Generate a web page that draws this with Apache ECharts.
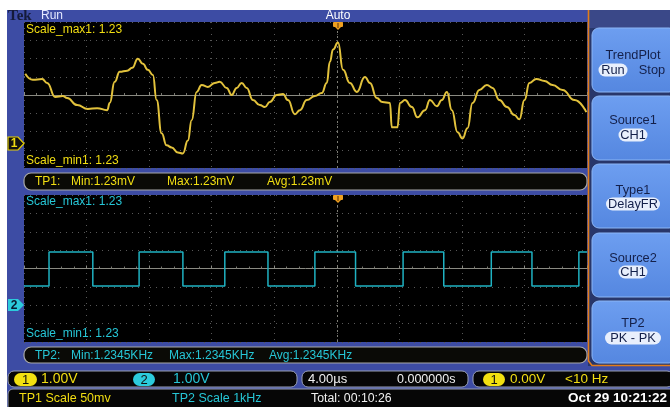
<!DOCTYPE html>
<html>
<head>
<meta charset="utf-8">
<script src="https://cdn.jsdelivr.net/npm/echarts@6/dist/echarts.min.js"></script>
<style>
  html, body { margin: 0; padding: 0; background: #fff; }
  #chart { width: 670px; height: 407px; }
</style>
</head>
<body>
<div id="chart"></div>
<script>
// ---- Data (in screen divisions) ----
const ch1Time = [0.02,0.14,0.29,0.37,0.50,0.62,0.69,0.85,1.02,1.17,
  1.33,1.37,1.45,1.53,1.65,1.73,1.82,1.90,1.98,2.06,
  2.12,2.20,2.28,2.36,2.46,2.54,2.62,2.68,2.76,2.84,
  2.94,3.05,3.13,3.24,3.32,3.40,3.48,3.56,3.66,3.77,
  3.85,3.93,4.04,4.14,4.22,4.33,4.41,4.52,4.65,4.76,
  4.84,4.89,4.94,5.02,5.10,5.21,5.32,5.45,5.53,5.64,
  5.73,5.85,5.88,5.97,6.01,6.09,6.20,6.29,6.41,6.49,
  6.60,6.68,6.76,6.84,6.93,7.01,7.09,7.17,7.28,7.40,
  7.49,7.60,7.72,7.84,7.92,8.00,8.08,8.19,8.32,8.45,
  8.61,8.80,8.99];
const ch1Value = [1.16,0.83,0.88,0.66,-0.11,-0.06,-0.17,-0.55,-0.77,-0.72,
  -0.83,-0.44,0.72,1.27,1.33,1.49,1.99,1.71,1.38,1.10,
  -0.28,-2.10,-2.76,-2.87,-3.15,-3.20,-2.49,-1.38,0.17,0.55,
  0.44,0.66,0.72,0.39,0.00,0.39,0.66,0.39,-0.28,-0.55,
  -0.66,-0.39,0.00,0.06,-0.28,-1.05,-0.83,-0.28,-0.06,0.11,
  0.66,1.82,2.49,2.87,1.38,0.66,0.17,0.99,0.66,-0.17,
  -0.39,-0.44,-1.77,-1.77,-0.44,-0.28,-0.66,-1.22,-0.83,-0.28,
  -0.61,-0.28,0.17,-0.83,-2.04,-2.38,-1.82,-0.44,0.28,0.55,
  0.39,-0.28,-0.66,-1.10,-1.33,-0.28,0.66,0.88,0.77,0.55,
  0.28,-0.28,-0.94];
const ch2Edges = [0.40,1.10,1.84,2.54,3.21,3.90,4.65,5.30,6.06,6.71,7.47,8.12,8.87];
const ch2High = 0.90;
const ch2Low = -0.95;
const xDivisions = 9;
const yDivisions = 4;
const triggerPos = 5;

// ---- Build series data ----
const ch1Data = ch1Time.map((t, i) => [t, ch1Value[i]]);
const ch2Data = [];
let lvl = ch2Low;
ch2Data.push([0, lvl]);
ch2Edges.forEach(e => {
  ch2Data.push([e, lvl]);
  lvl = (lvl === ch2Low) ? ch2High : ch2Low;
  ch2Data.push([e, lvl]);
});
ch2Data.push([xDivisions, lvl]);

const FONT = '"Liberation Sans", Arial, sans-serif';
const YEL = '#f2de12';
const CYA = '#26c6d6';

function rect(x, y, w, h, fill, stroke, r, lw) {
  return { type: 'rect', z: 50, shape: { x, y, width: w, height: h, r: r || 0 },
    style: { fill: fill, stroke: stroke || null, lineWidth: lw || 1 } };
}
function txt(x, y, s, color, size, weight, align, family) {
  return { type: 'text', z: 120, x, y,
    style: { text: s, fill: color, font: (weight || 'normal') + ' ' + (size || 12) + 'px ' + (family || FONT),
      textAlign: align || 'left', textVerticalAlign: 'middle', align: align || 'left', verticalAlign: 'middle' } };
}
function pill(cx, cy, w, h, s, fill, color, size) {
  return [
    { type: 'rect', z: 110, shape: { x: cx - w / 2, y: cy - h / 2, width: w, height: h, r: h / 2 }, style: { fill } },
    txt(cx, cy + 0.5, s, color, size || 12, 'normal', 'center')
  ];
}

const g = [];
// white borders
g.push(rect(0, 0, 670, 10, '#ffffff'));
g.push(rect(0, 0, 7, 407, '#ffffff'));
// right panel
g.push(rect(588, 10, 82, 356, '#28366a'));
g.push(rect(588, 10, 82, 18, '#3a4888'));
const btns = [[28, 92], [96, 160], [164, 228], [233, 297], [301, 363]];
btns.forEach(b => {
  g.push({ type: 'rect', z: 60, shape: { x: 592, y: b[0], width: 84, height: b[1] - b[0], r: 7 },
    style: { fill: new echarts.graphic.LinearGradient(0, 0, 0, 1, [
      { offset: 0, color: '#6d9ef0' }, { offset: 1, color: '#5587e0' }]), stroke: '#8cb6f6', lineWidth: 1 } });
});
g.push({ type: 'polyline', z: 70, shape: { points: [[588.5, 10], [588.5, 361], [592, 365.5], [670, 365.5]] },
  style: { stroke: '#e27c1a', lineWidth: 1.6, fill: null } });
// TP bars
g.push(rect(24, 173, 563, 17, '#0a0a06', '#a8a8a8', 7, 1.2));
g.push(rect(24, 347, 563, 16, '#0a0a06', '#a8a8a8', 7, 1.2));
// status bar
g.push(rect(8, 371, 289, 16, '#060606', '#9aa0b4', 6, 1));
g.push(rect(302, 371, 166, 16, '#060606', '#9aa0b4', 6, 1));
g.push(rect(473, 371, 200, 16, '#060606', '#9aa0b4', 6, 1));
g.push(rect(8, 389, 670, 20, '#060606', '#9aa0b4', [5, 0, 0, 0], 1));
// channel tags
g.push({ type: 'polygon', z: 80, shape: { points: [[8, 137], [18, 137], [24, 143.5], [18, 150], [8, 150]] },
  style: { fill: '#111', stroke: '#e8d000', lineWidth: 1.2 } });
g.push(txt(14, 144, '1', '#f0dc10', 12, 'bold', 'center'));
g.push({ type: 'polygon', z: 80, shape: { points: [[8, 299], [18, 299], [24, 305], [18, 311], [8, 311]] },
  style: { fill: '#2ccbdc' } });
g.push(txt(14, 305.5, '2', '#0a1a30', 12, 'bold', 'center'));
// trigger markers
[22, 195].forEach(y0 => {
  g.push({ type: 'rect', z: 110, shape: { x: 333, y: y0, width: 10, height: 5, r: 1 }, style: { fill: '#f0a020' } });
  g.push({ type: 'polygon', z: 110, shape: { points: [[335, y0 + 5], [341, y0 + 5], [338, y0 + 8]] }, style: { fill: '#f0a020' } });
  g.push({ type: 'line', z: 111, shape: { x1: 338, y1: y0 + 1, x2: 338, y2: y0 + 6 }, style: { stroke: '#5a3000', lineWidth: 1 } });
});
// header texts
g.push(txt(8, 16, 'Tek', '#141a3a', 15, 'bold', 'left', '"Liberation Serif", serif'));
g.push(txt(41, 16, 'Run', '#e4e8ff', 12));
g.push(txt(338, 16, 'Auto', '#ffffff', 12, 'normal', 'center'));
// plot labels
g.push(txt(26, 30, 'Scale_max1: 1.23', YEL, 12));
g.push(txt(26, 161, 'Scale_min1: 1.23', YEL, 12));
g.push(txt(26, 202, 'Scale_max1: 1.23', CYA, 12));
g.push(txt(26, 334, 'Scale_min1: 1.23', CYA, 12));
// TP bars text
g.push(txt(35, 182, 'TP1:', YEL, 12));
g.push(txt(71, 182, 'Min:1.23mV', YEL, 12));
g.push(txt(167, 182, 'Max:1.23mV', YEL, 12));
g.push(txt(267, 182, 'Avg:1.23mV', YEL, 12));
g.push(txt(35, 355.5, 'TP2:', CYA, 12));
g.push(txt(71, 355.5, 'Min:1.2345KHz', CYA, 12));
g.push(txt(169, 355.5, 'Max:1.2345KHz', CYA, 12));
g.push(txt(269, 355.5, 'Avg:1.2345KHz', CYA, 12));
// status row 1
pill(25.5, 379.5, 23, 13, '1', '#f2e010', '#111', 13).forEach(e => g.push(e));
g.push(txt(41, 379.5, '1.00V', YEL, 14));
pill(144, 379.5, 22, 13, '2', '#2ccbdc', '#111', 13).forEach(e => g.push(e));
g.push(txt(173, 379.5, '1.00V', CYA, 14));
g.push(txt(308, 379.5, '4.00µs', '#f0f0f0', 13));
g.push(txt(397, 379.5, '0.000000s', '#f0f0f0', 12.5));
pill(494, 379.5, 22, 13, '1', '#f2e010', '#111', 13).forEach(e => g.push(e));
g.push(txt(510, 379.5, '0.00V', YEL, 13.5));
g.push(txt(565, 379.5, '<10 Hz', YEL, 13.5));
// status row 2
g.push(txt(19, 398.5, 'TP1 Scale 50mv', YEL, 12.5));
g.push(txt(172, 398.5, 'TP2 Scale 1kHz', CYA, 12.5));
g.push(txt(311, 398.5, 'Total: 00:10:26', '#f0f0f0', 12.3));
g.push(txt(667, 398.5, 'Oct 29 10:21:22', '#ffffff', 13.5, 'bold', 'right'));
// right panel texts
const BT = '#14204a';
g.push(txt(633, 55, 'TrendPlot', BT, 12.8, 'normal', 'center'));
pill(613, 70, 29, 13, 'Run', '#e8effc', BT, 12.8).forEach(e => g.push(e));
g.push(txt(652, 70, 'Stop', BT, 12.8, 'normal', 'center'));
g.push(txt(633, 120, 'Source1', BT, 12.8, 'normal', 'center'));
pill(633, 135, 29, 13, 'CH1', '#e8effc', BT, 12.8).forEach(e => g.push(e));
g.push(txt(633, 190, 'Type1', BT, 12.8, 'normal', 'center'));
pill(633, 204, 54, 13, 'DelayFR', '#e8effc', BT, 12.8).forEach(e => g.push(e));
g.push(txt(633, 258, 'Source2', BT, 12.8, 'normal', 'center'));
pill(633, 272, 29, 13, 'CH1', '#e8effc', BT, 12.8).forEach(e => g.push(e));
g.push(txt(633, 323, 'TP2', BT, 12.8, 'normal', 'center'));
pill(633, 338, 56, 13, 'PK - PK', '#e8effc', BT, 12.8).forEach(e => g.push(e));

function xAx(gi) {
  return { type: 'value', gridIndex: gi, min: 0, max: xDivisions, interval: 1,
    axisLabel: { show: false },
    axisLine: { show: true, onZero: true, lineStyle: { color: '#8a8a82', width: 1 } },
    axisTick: { show: true, inside: true, length: 3, lineStyle: { color: '#8a8a82' } },
    minorTick: { show: true, splitNumber: 5, length: 2, lineStyle: { color: '#77776f' } },
    splitLine: { show: true, lineStyle: { color: '#585858', width: 1, type: [1, 5] } } };
}
function yAx(gi) {
  return { type: 'value', gridIndex: gi, min: -yDivisions, max: yDivisions, interval: 1,
    axisLabel: { show: false }, axisLine: { show: false }, axisTick: { show: false },
    splitLine: { show: true, lineStyle: { color: '#585858', width: 1, type: [1, 5] } } };
}
const centerMark = { silent: true, symbol: ['none', 'none'], label: { show: false },
  lineStyle: { color: '#7e7e76', type: [2, 3], width: 1 }, data: [{ xAxis: triggerPos }] };

const option = {
  backgroundColor: '#3d4ca4',
  animation: false,
  grid: [
    { left: 24, top: 22, width: 563, height: 146, show: true, backgroundColor: '#000', borderWidth: 0 },
    { left: 24, top: 195, width: 563, height: 147, show: true, backgroundColor: '#000', borderWidth: 0 }
  ],
  xAxis: [xAx(0), xAx(1)],
  yAxis: [yAx(0), yAx(1)],
  series: [
    { type: 'line', xAxisIndex: 0, yAxisIndex: 0, data: ch1Data, showSymbol: false, smooth: 0.5, smoothMonotone: 'x',
      lineStyle: { color: '#e2c23c', width: 2 }, z: 5, markLine: centerMark },
    { type: 'line', xAxisIndex: 1, yAxisIndex: 1, data: ch2Data, showSymbol: false,
      lineStyle: { color: '#1fb2c2', width: 1.5 }, z: 5, markLine: centerMark }
  ],
  graphic: g
};
const chart = echarts.init(document.getElementById('chart'), null, { renderer: 'canvas' });
chart.setOption(option);
</script>
</body>
</html>
